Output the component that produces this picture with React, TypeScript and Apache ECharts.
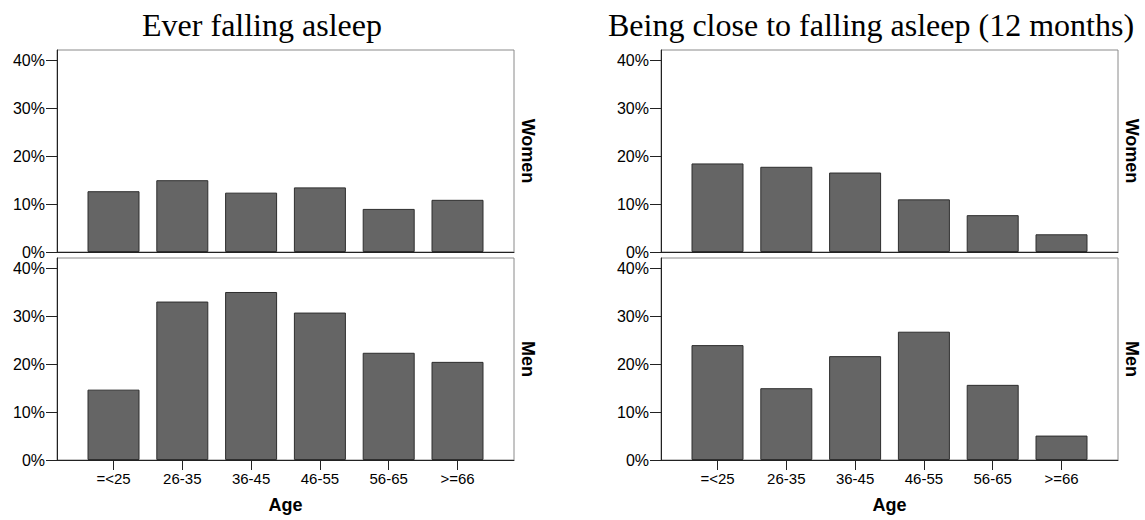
import React, { useEffect, useRef } from "react";
import * as echarts from "echarts";

const ageGroups = ["=<25", "26-35", "36-45", "46-55", "56-65", ">=66"];
const everWomen = [12.7, 15.0, 12.4, 13.5, 9.0, 10.9];
const everMen = [14.7, 33.1, 35.1, 30.8, 22.4, 20.5];
const closeWomen = [18.5, 17.8, 16.6, 11.0, 7.7, 3.7];
const closeMen = [24.0, 15.0, 21.7, 26.8, 15.7, 5.1];
const yTicks = [0, 10, 20, 30, 40];
const titles = ["Ever falling asleep", "Being close to falling asleep (12 months)"];
const rowLabels = ["Women", "Men"];
const xAxisTitle = "Age";

const SANS = "Arial, 'Liberation Sans', Helvetica, sans-serif";
const SERIF = "'Times New Roman', 'Liberation Serif', serif";

export default function App() {
  const ref = useRef<HTMLDivElement>(null);
  useEffect(() => {
    if (!ref.current) return;
    const chart = echarts.init(ref.current, undefined, { renderer: "svg" });

    const boxW = 457;
    const boxH = 202;
    const boxLefts = [57, 661];
    const boxTops = [50, 258];
    const margin = 56.5;
    const spacing = (boxW - 2 * margin) / 5;
    const innerOff = margin - spacing / 2;
    const innerW = spacing * 6;
    const yMax = 42.2;

    const panels = [
      { col: 0, row: 0, data: everWomen },
      { col: 0, row: 1, data: everMen },
      { col: 1, row: 0, data: closeWomen },
      { col: 1, row: 1, data: closeMen },
    ];

    const grid: any[] = [];
    const xAxis: any[] = [];
    const yAxis: any[] = [];
    const series: any[] = [];

    panels.forEach((p, i) => {
      const L = boxLefts[p.col];
      const T = boxTops[p.row];
      const outer = i * 2;
      const inner = i * 2 + 1;
      grid.push({
        left: L, top: T, width: boxW, height: boxH,
        show: true, borderColor: "#8a8a8a", borderWidth: 1, backgroundColor: "#fff",
      });
      grid.push({ left: L + innerOff, top: T, width: innerW, height: boxH, show: false });
      xAxis.push({
        gridIndex: outer, type: "value", min: 0, max: 1,
        axisLine: { show: true, lineStyle: { color: "#222", width: 1 } },
        axisTick: { show: false }, axisLabel: { show: false }, splitLine: { show: false },
      });
      yAxis.push({ gridIndex: outer, type: "value", min: 0, max: 1, show: false });
      const bottom = p.row === 1;
      xAxis.push({
        gridIndex: inner, type: "category", data: ageGroups,
        axisLine: { show: false },
        axisTick: { show: bottom, alignWithLabel: true, length: 10, lineStyle: { color: "#222" } },
        axisLabel: { show: bottom, margin: 11, color: "#000", fontSize: 15, fontFamily: SANS },
        splitLine: { show: false },
      });
      yAxis.push({
        gridIndex: inner, type: "value", min: 0, max: yMax, interval: 10,
        offset: innerOff,
        axisLine: { show: true, lineStyle: { color: "#222", width: 1 } },
        axisTick: { show: true, length: 11, customValues: yTicks, lineStyle: { color: "#222" } },
        axisLabel: {
          margin: 12, color: "#000", fontSize: 16, fontFamily: SANS,
          customValues: yTicks, formatter: (v: number) => `${v}%`,
        },
        splitLine: { show: false },
      });
      series.push({
        type: "bar", xAxisIndex: inner, yAxisIndex: inner, data: p.data,
        barWidth: 52,
        itemStyle: { color: "#656565", borderColor: "#2e2e2e", borderWidth: 1 },
        silent: true,
      });
    });

    const graphic: any[] = [];
    const titleX = [262, 871];
    titles.forEach((t, c) => {
      graphic.push({
        type: "text", x: titleX[c], y: 25,
        style: { text: t, fill: "#000", font: `32px ${SERIF}`, align: "center", verticalAlign: "middle" },
      });
    });
    boxLefts.forEach((L) => {
      boxTops.forEach((T, r) => {
        graphic.push({
          type: "text", x: L + boxW + 14, y: T + boxH / 2, rotation: -Math.PI / 2,
          style: { text: rowLabels[r], fill: "#000", font: `bold 18px ${SANS}`, align: "center", verticalAlign: "middle" },
        });
      });
      graphic.push({
        type: "text", x: L + boxW / 2, y: 505,
        style: { text: xAxisTitle, fill: "#000", font: `bold 18px ${SANS}`, align: "center", verticalAlign: "middle" },
      });
    });

    chart.setOption({
      animation: false,
      backgroundColor: "#fff",
      grid, xAxis, yAxis, series, graphic,
    });
    return () => chart.dispose();
  }, []);
  return <div ref={ref} style={{ position: "absolute", left: 0, top: 0, width: 1145, height: 520 }} />;
}
